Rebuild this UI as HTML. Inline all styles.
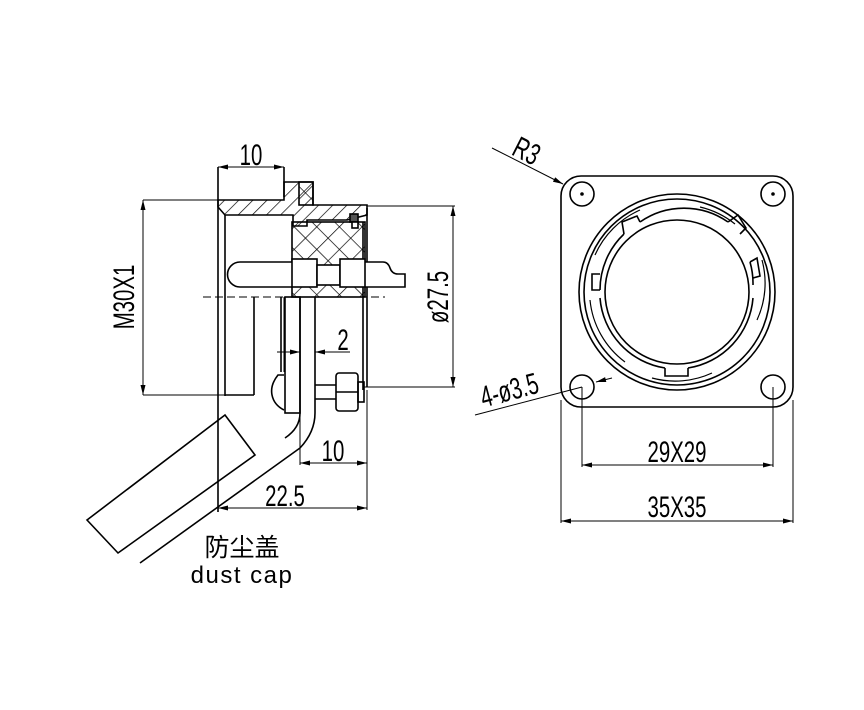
<!DOCTYPE html>
<html><head><meta charset="utf-8"><style>
body{margin:0;background:#fff}
svg{display:block}
text{font-family:"Liberation Sans","Noto Sans CJK SC",sans-serif;fill:#000}
.n{font-family:"Liberation Sans Narrow","Liberation Sans",sans-serif;font-size:30px;font-weight:normal}
</style></head><body>
<svg width="864" height="710" viewBox="0 0 864 710" xmlns="http://www.w3.org/2000/svg">
<defs>
<pattern id="h" width="10" height="10" patternUnits="userSpaceOnUse" patternTransform="rotate(45)"><line x1="0" y1="0" x2="0" y2="10" stroke="#000" stroke-width="1.4"/></pattern>
<pattern id="x" width="16" height="16" patternUnits="userSpaceOnUse" patternTransform="rotate(45)"><line x1="0" y1="0" x2="0" y2="16" stroke="#000" stroke-width="1.4"/><line x1="0" y1="0" x2="16" y2="0" stroke="#000" stroke-width="1.4"/></pattern>
<marker id="a" viewBox="0 0 12 6" refX="12" refY="3" markerWidth="12" markerHeight="5" orient="auto-start-reverse" markerUnits="userSpaceOnUse"><path d="M0,0L12,3L0,6z" fill="#000"/></marker>
</defs>
<g fill="none" stroke="#000" stroke-width="1.6">
<line x1="218" y1="167" x2="218" y2="512"/>
<line x1="284" y1="167" x2="284" y2="197"/>
<line x1="218" y1="167" x2="284" y2="167" stroke-width="1" marker-start="url(#a)" marker-end="url(#a)"/>
<path d="M218,200 L284,200 L284,182 L313,182 L313,205 L367,205 L367,215 L347,220 L307,220 L307,226 L293,226 L293,215 L225,215 L218,207Z" fill="url(#h)"/>
<rect x="299" y="182" width="14" height="23" fill="url(#x)"/>
<rect x="292" y="222" width="73" height="75" fill="url(#x)"/>
<rect x="350" y="214" width="8" height="8" fill="#555"/>
<rect x="352" y="222" width="6" height="6" fill="#fff"/>
<line x1="367" y1="208" x2="367" y2="387"/>
<line x1="363" y1="222" x2="363" y2="390"/>
<line x1="225" y1="215" x2="225" y2="396"/>
<line x1="254" y1="297" x2="254" y2="395"/>
<line x1="225" y1="395" x2="254" y2="395"/>
<path d="M292,262 L240,262 A12.5,12.5 0 0 0 240,287 L292,287" fill="#fff"/>
<path d="M365,262 L383,262 Q388,262 390,268 Q392,274 398,274 L405,274 L405,287 L365,287" fill="#fff"/>
<rect x="292" y="259" width="25" height="28" fill="#fff"/>
<rect x="317" y="265" width="23" height="20" fill="#fff"/>
<rect x="340" y="259" width="25" height="28" fill="#fff"/>
<line x1="203" y1="297" x2="385" y2="297" stroke-width="1" stroke-dasharray="8,4"/>
<line x1="281" y1="297" x2="281" y2="372"/>
<line x1="284" y1="297" x2="284" y2="372" stroke-width="1"/>
<rect x="285" y="297" width="15" height="116"/>
<path d="M300,297 L300,413 Q300,428 285,438"/>
<path d="M315,297 L315,413 Q315,432 300,448"/>
<path d="M284,375 L278,375 Q270,385 272,395 Q274,405 284,410"/>
<line x1="315" y1="385" x2="336" y2="385"/>
<line x1="315" y1="399" x2="336" y2="399"/>
<rect x="336" y="373" width="22" height="38" rx="3" fill="#fff"/>
<line x1="336" y1="392" x2="358" y2="392"/>
<rect x="358" y="382" width="6" height="20"/>
<path d="M87,520 L225,415 L255,455 L118,553Z"/>
<line x1="140" y1="563" x2="300" y2="448"/>
<line x1="143" y1="200" x2="218" y2="200" stroke-width="1"/>
<line x1="143" y1="395" x2="225" y2="395" stroke-width="1"/>
<line x1="143" y1="200" x2="143" y2="395" stroke-width="1" marker-start="url(#a)" marker-end="url(#a)"/>
<line x1="367" y1="206" x2="455" y2="206" stroke-width="1"/>
<line x1="364" y1="387" x2="455" y2="387" stroke-width="1"/>
<line x1="453" y1="206" x2="453" y2="387" stroke-width="1" marker-start="url(#a)" marker-end="url(#a)"/>
<line x1="277" y1="352" x2="300" y2="352" stroke-width="1" marker-end="url(#a)"/>
<line x1="350" y1="352" x2="315" y2="352" stroke-width="1" marker-end="url(#a)"/>
<line x1="300" y1="415" x2="300" y2="465" stroke-width="1"/>
<line x1="367" y1="390" x2="367" y2="510" stroke-width="1"/>
<line x1="300" y1="463" x2="367" y2="463" stroke-width="1" marker-start="url(#a)" marker-end="url(#a)"/>
<line x1="218" y1="508" x2="367" y2="508" stroke-width="1" marker-start="url(#a)" marker-end="url(#a)"/>
<rect x="561" y="176" width="232" height="231" rx="20"/>
<circle cx="677" cy="292" r="98"/>
<circle cx="677" cy="292" r="93"/>
<circle cx="677" cy="292" r="72"/>
<path d="M600,290 A77,77 0 0 1 624,234 M640,222 A77,77 0 0 1 728,222 M750,262 A77,77 0 0 1 753,285 M753,298 A77,77 0 0 1 688,368 M665,368 A77,77 0 0 1 600,298"/>
<path d="M600,290 L592,290 L592,274 L600,274 M624,234 L622,222 L637,216 L640,222 M665,368 L665,376 L688,376 L688,368 M728,222 L738,215 L746,228 L740,234 M750,262 L757,258 L760,276 L753,278"/>
<path d="M590,300 A88,88 0 0 0 625,362 M652,378 A88,88 0 0 0 712,373 M757,320 A88,88 0 0 0 762,260 M735,224 A88,88 0 0 0 700,207 M640,210 A88,88 0 0 0 595,255" stroke-width="1.2"/>
<circle cx="582" cy="194" r="12"/><circle cx="773" cy="194" r="12"/>
<circle cx="582" cy="387" r="12"/><circle cx="773" cy="387" r="12"/>
<circle cx="582" cy="194" r="1" fill="#000"/><circle cx="773" cy="194" r="1" fill="#000"/>
<line x1="582" y1="387" x2="582" y2="467" stroke-width="1"/>
<line x1="773" y1="387" x2="773" y2="467" stroke-width="1"/>
<line x1="582" y1="465" x2="773" y2="465" stroke-width="1" marker-start="url(#a)" marker-end="url(#a)"/>
<line x1="561" y1="400" x2="561" y2="523" stroke-width="1"/>
<line x1="793" y1="400" x2="793" y2="523" stroke-width="1"/>
<line x1="561" y1="521" x2="793" y2="521" stroke-width="1" marker-start="url(#a)" marker-end="url(#a)"/>
<line x1="492" y1="148" x2="563" y2="184" stroke-width="1" marker-end="url(#a)"/>
<line x1="475" y1="415" x2="582" y2="387" stroke-width="1"/>
<line x1="612" y1="378" x2="596" y2="382" stroke-width="1" marker-end="url(#a)"/>
</g>
<text class="n" transform="translate(251,165) scale(0.68,1)" text-anchor="middle">10</text>
<text class="n" transform="translate(134,297) rotate(-90) scale(0.68,1)" text-anchor="middle">M30X1</text>
<text class="n" transform="translate(448,297) rotate(-90) scale(0.68,1)" text-anchor="middle">ø27.5</text>
<text class="n" transform="translate(343,350) scale(0.68,1)" text-anchor="middle">2</text>
<text class="n" transform="translate(333,461) scale(0.68,1)" text-anchor="middle">10</text>
<text class="n" transform="translate(285,506) scale(0.68,1)" text-anchor="middle">22.5</text>
<text x="242" y="556" font-size="25" text-anchor="middle">防尘盖</text>
<text x="242" y="583" font-size="24" text-anchor="middle" letter-spacing="1.5">dust cap</text>
<text class="n" transform="translate(677,462) scale(0.68,1)" text-anchor="middle">29X29</text>
<text class="n" transform="translate(677,517) scale(0.68,1)" text-anchor="middle">35X35</text>
<text class="n" transform="translate(522,160) rotate(27) scale(0.68,1)" text-anchor="middle">R3</text>
<text class="n" transform="translate(512,400) rotate(-15) scale(0.68,1)" text-anchor="middle">4-ø3.5</text>
</svg>
</body></html>
